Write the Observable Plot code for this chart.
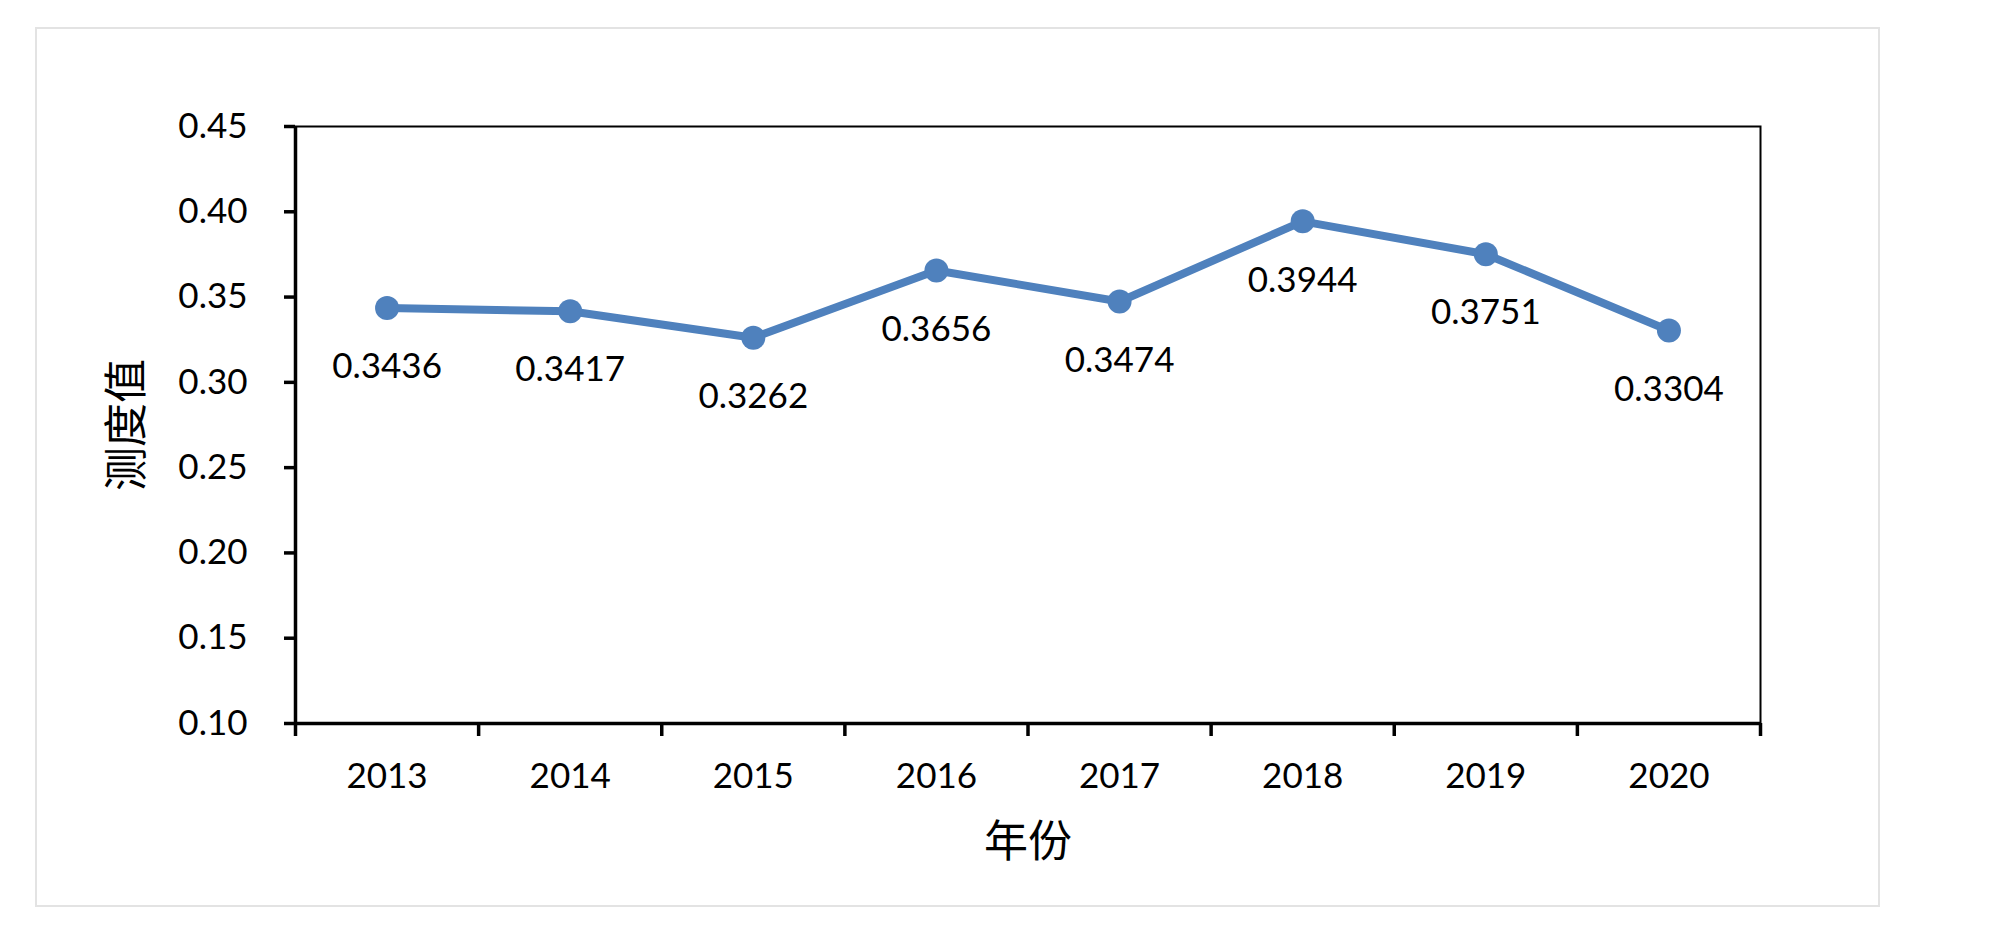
<!DOCTYPE html>
<html>
<head>
<meta charset="utf-8">
<script src="https://cdn.jsdelivr.net/npm/d3@7"></script>
<script src="https://cdn.jsdelivr.net/npm/@observablehq/plot@0.6"></script>
<style>
  html, body { margin: 0; padding: 0; background: #fff; }
  #wrap { position: relative; width: 1999px; height: 935px; }
  #border { position: absolute; left: 35px; top: 27px; width: 1841px; height: 876px; border: 2px solid #e3e3e3; box-sizing: content-box; pointer-events: none; }
</style>
</head>
<body>
<div id="wrap"><div id="border"></div><div id="chart"></div></div>
<script>
const years = [2013, 2014, 2015, 2016, 2017, 2018, 2019, 2020];
const values = [0.3436, 0.3417, 0.3262, 0.3656, 0.3474, 0.3944, 0.3751, 0.3304];
const yTicks = [0.10, 0.15, 0.20, 0.25, 0.30, 0.35, 0.40, 0.45];
const xLabel = "年份";
const yLabel = "测度值";

const data = years.map((y, i) => ({year: y, value: values[i]}));
const boundaries = years.map(y => y - 0.5).concat([years[years.length - 1] + 0.5]);
const blue = "#4f81bd";
const numFont = "Lato, 'Open Sans', sans-serif";
const cjkFont = "'Noto Sans CJK SC', sans-serif";

const chart = Plot.plot({
  width: 1999,
  height: 935,
  marginLeft: 295,
  marginRight: 239,
  marginTop: 126,
  marginBottom: 212,
  style: {fontFamily: numFont, fontSize: "35px", color: "#000", background: "transparent"},
  x: {type: "linear", domain: [years[0] - 0.5, years[years.length - 1] + 0.5]},
  y: {domain: [0.10, 0.45]},
  marks: [
    Plot.frame({stroke: "#000", strokeWidth: 2}),
    Plot.axisY({ticks: yTicks, tickFormat: d => d.toFixed(2), tickSize: 11, tickPadding: 37, strokeWidth: 3.5, label: null, fontSize: 35}),
    Plot.axisX({ticks: boundaries, tickFormat: () => "", tickSize: 13, strokeWidth: 3.5, label: null}),
    Plot.axisX({ticks: years, tickFormat: d => String(d), tickSize: 0, tickPadding: 40, label: null, fontSize: 35}),
    Plot.ruleX([years[0] - 0.5], {stroke: "#000", strokeWidth: 3.5}),
    Plot.ruleY([0.10], {stroke: "#000", strokeWidth: 3.5}),
    Plot.line(data, {x: "year", y: "value", stroke: blue, strokeWidth: 8}),
    Plot.dot(data, {x: "year", y: "value", r: 12, fill: blue, stroke: "none"}),
    Plot.text(data, {x: "year", y: "value", text: d => d.value.toFixed(4), dy: 59, fontSize: 35, fill: "#000"}),
    Plot.text([yLabel], {frameAnchor: "left", dx: -168, rotate: -90, textAnchor: "middle", lineAnchor: "middle", fontFamily: cjkFont, fontSize: 44, fill: "#000"}),
    Plot.text([xLabel], {frameAnchor: "bottom", dy: 119, textAnchor: "middle", lineAnchor: "middle", fontFamily: cjkFont, fontSize: 44, fill: "#000"})
  ]
});
document.getElementById("chart").appendChild(chart);
</script>
</body>
</html>
